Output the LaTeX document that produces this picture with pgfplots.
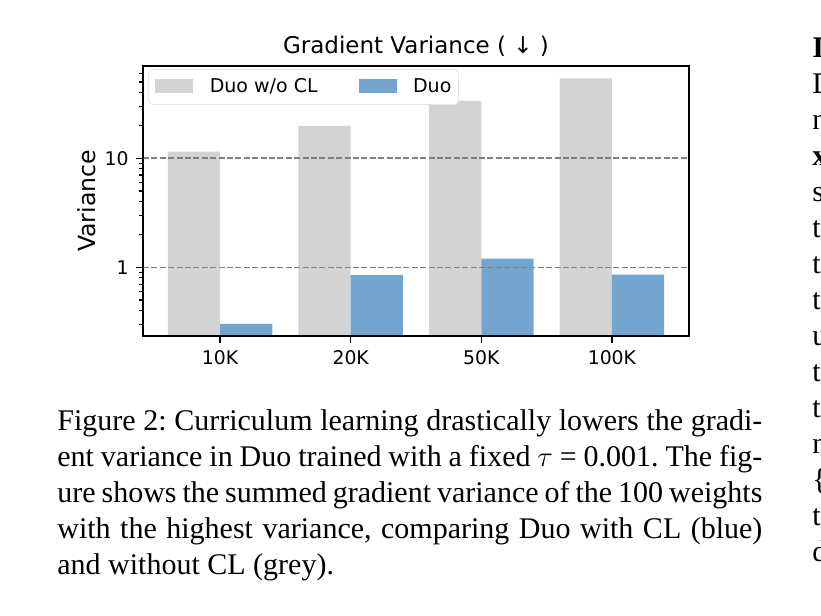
\documentclass[border=0pt]{standalone}
\usepackage{fontspec}
\setmainfont{DejaVu Sans}
\newfontfamily\capfont{Liberation Serif}
\usepackage{pgfplots}
\pgfplotsset{compat=1.18}

\definecolor{bargrey}{RGB}{211,211,211}
\definecolor{barblue}{RGB}{116,165,206}
\definecolor{gridgrey}{RGB}{128,128,128}

\begin{document}
\frenchspacing
\begin{tikzpicture}
% page = 821 x 616 px, 1 px = 0.5pt
\path[use as bounding box] (0,0) rectangle (410.5pt,-308pt);

\begin{axis}[
    at={(71.5pt,-168pt)}, anchor=south west,
    scale only axis, width=273pt, height=135pt,
    ymode=log, log origin y=infty,
    ymin=0.234, ymax=70,
    xmin=-0.59, xmax=3.59,
    xtick={0,1,2,3}, xticklabels={10K,20K,50K,100K},
    ytick={1,10}, yticklabels={1,10},
    minor ytick={0.3,0.4,0.5,0.6,0.7,0.8,0.9,2,3,4,5,6,7,8,9,20,30,40,50,60},
    xtick pos=bottom, ytick pos=left,
    tick align=outside,
    major tick length=3.5pt, minor tick length=2pt,
    tick style={black, line width=0.6pt},
    axis line style={line width=0.8pt},
    ticklabel style={font=\fontsize{9.4}{11}\selectfont, inner sep=0pt},
    xticklabel style={yshift=-3.5pt},
    yticklabel style={xshift=-3.5pt},
    ymajorgrids,
    major grid style={gridgrey, dash pattern=on 3pt off 1.2pt, line width=0.7pt},
    axis on top,
    title={Gradient Variance ( ↓ )},
    title style={at={(0.5,1)}, anchor=base, yshift=0.4pt, inner sep=0pt,
                 font=\fontsize{11.5}{13}\selectfont},
    ylabel={Variance},
    every axis y label/.style={at={(rel axis cs:0,0.5)}, xshift=-28pt,
                               rotate=90, anchor=center,
                               font=\fontsize{11.8}{14}\selectfont},
    legend columns=2,
    legend style={at={(0.009,0.989)}, anchor=north west,
                  draw=black!10, rounded corners=2pt, fill=white,
                  inner xsep=3.5pt, inner ysep=4.5pt,
                  font=\fontsize{9.5}{11}\selectfont,
                  nodes={inner sep=0pt, anchor=base west},
                  /tikz/every odd column/.append style={column sep=8.25pt},
                  /tikz/every even column/.append style={column sep=20.5pt}},
]
\addplot[ybar, bar width=0.4, bar shift=-0.2, fill=bargrey, draw=none,
    legend image code/.code={\fill[bargrey, sharp corners] (0pt,-0.2pt) rectangle (19pt,6.85pt);}]
    coordinates {(0,11.5) (1,19.8) (2,33.6) (3,53.8)};
\addlegendentry{Duo w/o CL}
\addplot[ybar, bar width=0.4, bar shift=0.2, fill=barblue, draw=none,
    legend image code/.code={\fill[barblue, sharp corners] (0pt,-0.2pt) rectangle (19pt,6.85pt);}]
    coordinates {(0,0.302) (1,0.845) (2,1.20) (3,0.857)};
\addlegendentry{Duo}
\end{axis}

% caption
\node[anchor=north west, inner sep=0pt, text width=352.5pt, align=justify,
      font=\capfont\fontsize{15}{18}\selectfont] at (28.5pt,-204.5pt)
{Figure 2: Curriculum learning drastically lowers the gradi-\linebreak
ent variance in Duo trained with a fixed $\tau$ = 0.001. The fig-\linebreak
ure shows the summed gradient variance of the 100 weights\linebreak
with the highest variance, comparing Duo with CL (blue)\linebreak
and without CL (grey).};

% cut-off neighbouring column
\foreach \k/\t in {0/\textbf{I},1/D,2/n,3/\textbf{x},4/s,5/t,6/t,7/t,8/u,
                   9/t,10/t,11/n,12/\{,13/t,14/d}{
  \node[anchor=base west, inner sep=0pt, font=\capfont\fontsize{15}{18}\selectfont]
    at (406pt,{-(57+36*\k)*0.5pt}) {\t};
}
\end{tikzpicture}
\end{document}
